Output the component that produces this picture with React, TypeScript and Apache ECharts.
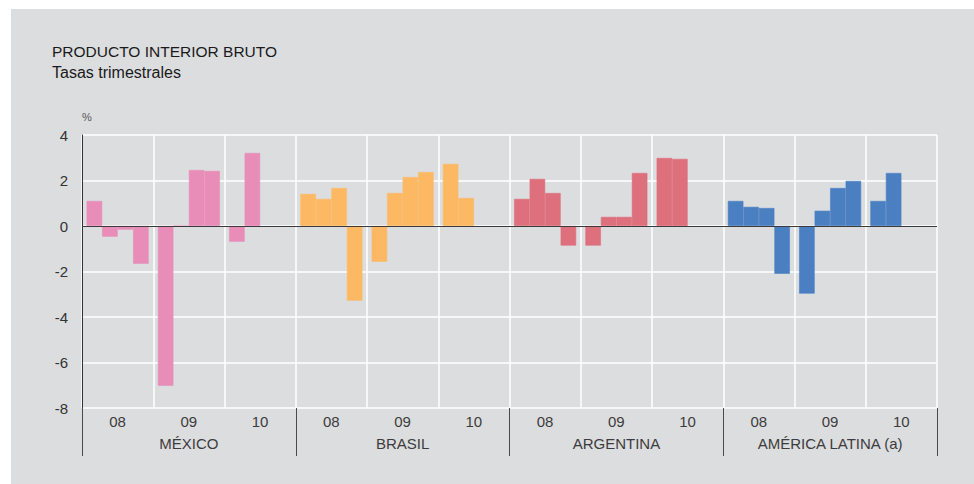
import React, { useEffect, useRef } from "react";
import * as echarts from "echarts";

const countries = ["MÉXICO", "BRASIL", "ARGENTINA", "AMÉRICA LATINA (a)"];
const years = ["08", "09", "10"];
const quarters = ["T1", "T2", "T3", "T4"];
const countryColors = ["#E88DB8", "#FDB863", "#DE6F7D", "#4A7FC1"];

// quarterly rates, 2008 Q1 .. 2010 Q2
const mexico = [1.1, -0.47, -0.16, -1.66, -7.02, 0, 2.46, 2.42, -0.69, 3.21];
const brasil = [1.41, 1.19, 1.67, -3.28, -1.57, 1.45, 2.15, 2.37, 2.73, 1.23];
const argentina = [1.19, 2.07, 1.45, -0.86, -0.86, 0.4, 0.4, 2.33, 2.99, 2.95];
const americaLatina = [1.1, 0.84, 0.79, -2.1, -2.97, 0.67, 1.67, 1.98, 1.1, 2.33];

const yTicks = { min: -8, max: 4, interval: 2 };

export default function App() {
  const ref = useRef<HTMLDivElement>(null);
  useEffect(() => {
    if (!ref.current) return;
    const chart = echarts.init(ref.current, undefined, { renderer: "svg" });
    const all = [mexico, brasil, argentina, americaLatina];
    const yearCats: string[] = [];
    countries.forEach(() => years.forEach((y) => yearCats.push(y)));

    const series: any[] = quarters.map((q, qi) => {
      const data: any[] = [];
      all.forEach((arr, ci) => {
        years.forEach((_, yi) => {
          const idx = yi * 4 + qi;
          const v = idx < arr.length ? arr[idx] : null;
          data.push(
            v === null
              ? null
              : {
                  value: v,
                  itemStyle: {
                    color: countryColors[ci],
                    borderColor: countryColors[ci],
                    borderWidth: 0.6,
                  },
                }
          );
        });
      });
      return {
        type: "bar",
        name: q,
        xAxisIndex: 0,
        yAxisIndex: 0,
        data,
        barGap: "0%",
        barCategoryGap: "13%",
        silent: true,
        markLine:
          qi === 0
            ? {
                silent: true,
                symbol: "none",
                label: { show: false },
                lineStyle: { color: "#3a3a3a", width: 1, type: "solid" },
                data: [{ yAxis: 0 }],
              }
            : undefined,
      };
    });

    chart.setOption({
      animation: false,
      textStyle: { fontFamily: "Liberation Sans, Arial, sans-serif" },
      graphic: [
        {
          type: "rect",
          z: -10,
          silent: true,
          shape: { x: 11, y: 9, width: 963, height: 475 },
          style: { fill: "#DCDDDF" },
        },
      ],
      title: {
        text: "PRODUCTO INTERIOR BRUTO",
        subtext: "Tasas trimestrales",
        left: 52,
        top: 43,
        itemGap: 5,
        padding: 0,
        textStyle: { fontSize: 15.5, fontWeight: "normal", color: "#1a1a1a" },
        subtextStyle: { fontSize: 16, color: "#1a1a1a" },
      },
      grid: { left: 82, right: 37, top: 135, bottom: 76, containLabel: false },
      xAxis: [
        {
          type: "category",
          data: yearCats,
          position: "bottom",
          offset: 0,
          axisLine: { show: false },
          axisTick: { show: false },
          axisLabel: { interval: 0, margin: 6, fontSize: 15, color: "#3c3c3c" },
          splitLine: { show: true, interval: 0, lineStyle: { color: "#ffffff", width: 1.5 } },
        },
        {
          type: "category",
          data: countries,
          position: "bottom",
          offset: 0,
          axisLine: { show: false },
          axisTick: { show: true, interval: 0, length: 48, lineStyle: { color: "#4a4a4a", width: 1 } },
          axisLabel: { interval: 0, margin: 28, fontSize: 15, color: "#3c3c3c" },
          splitLine: { show: false },
        },
      ],
      yAxis: {
        type: "value",
        min: yTicks.min,
        max: yTicks.max,
        interval: yTicks.interval,
        name: "%",
        nameLocation: "end",
        nameGap: 13,
        nameTextStyle: { align: "left", fontSize: 11, color: "#555", padding: [0, 0, 0, 0] },
        axisLine: { show: true, lineStyle: { color: "#333", width: 1 } },
        axisTick: { show: false },
        axisLabel: { fontSize: 15, color: "#333", margin: 14 },
        splitLine: { show: true, lineStyle: { color: "#ffffff", width: 1.5 } },
      },
      series,
    });
    return () => chart.dispose();
  }, []);
  return (
    <div style={{ position: "fixed", left: 0, top: 0, width: 974, height: 484, background: "#fff" }}>
      <div ref={ref} style={{ width: 974, height: 484 }} />
    </div>
  );
}
